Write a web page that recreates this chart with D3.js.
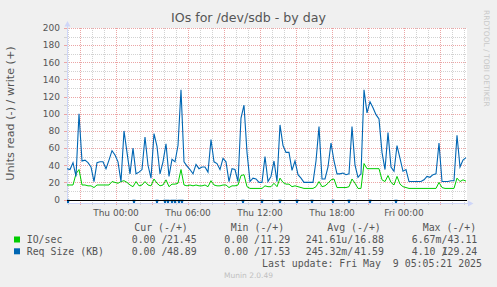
<!DOCTYPE html>
<html>
<head>
<meta charset="utf-8">
<script src="https://cdn.jsdelivr.net/npm/d3@7/dist/d3.min.js"></script>
<style>
  html, body { margin: 0; padding: 0; background: #F0F0F0; }
  svg { display: block; }
</style>
</head>
<body>
<div id="chart"></div>
<script>
// samples every 15 minutes, starting Wed 19:55
const startTime = new Date(2025, 4, 7, 19, 55)
const endTime = new Date(2025, 4, 9, 5, 15)
const stepMinutes = 15

// write side (+)
const ioWrite = [
  17, 17, 17, 30, 35, 17, 17, 16, 16, 14,
  17, 17, 17, 17, 17, 21, 20, 19, 21, 22,
  20, 17, 15, 21, 16, 17, 21, 17, 16, 24,
  19, 16, 17, 23, 15, 18, 18, 19, 35, 17,
  16, 17, 16, 17, 16, 16, 17, 15, 22, 17,
  16, 16, 17, 17, 14, 16, 16, 17, 28, 29,
  15, 13, 13, 13, 13, 13, 16, 15, 15, 19,
  15, 25, 20, 18, 18, 15, 16, 15, 14, 13,
  13, 13, 13, 15, 21, 15, 16, 19, 23, 24,
  14, 14, 14, 14, 15, 24, 19, 13, 13, 42,
  36, 36, 36, 36, 36, 23, 21, 28, 20, 17,
  27, 18, 15, 14, 13, 13, 13, 13, 13, 13,
  13, 13, 13, 13, 20, 14, 13, 13, 13, 13,
  25, 21, 23, 21.45
]
const reqSizeWrite = [
  36, 35, 43, 27, 100, 45, 46, 43, 38, 21,
  43, 44, 44, 36, 46, 57, 52, 44, 21, 80,
  55, 30, 60, 30, 32, 35, 73, 40, 25, 77,
  62, 30, 44, 65, 27, 47, 44, 63, 128, 44,
  39, 35, 30, 41, 36, 38, 38, 32, 70, 44,
  42, 35, 48, 44, 21, 36, 35, 21, 95, 110,
  55, 21, 25, 24, 20, 20, 50, 21, 27, 45,
  21, 87, 63, 55, 55, 34, 45, 29, 25, 20,
  20, 20, 20, 45, 85, 24, 24, 38, 66, 45,
  30, 30, 31, 29, 30, 85, 40, 26, 30, 128,
  101, 114, 107, 99, 94, 55, 35, 78, 38, 33,
  63, 48, 33, 35, 21, 21, 21, 21, 21, 23,
  27, 26, 29, 30, 66, 21, 21, 21, 22, 22,
  75, 38, 46, 48.89
]

// read side (-): short single-sample spikes of request size
const readTimes = [
  '2025-05-07 20:00', '2025-05-08 01:30', '2025-05-08 03:25', '2025-05-08 04:05',
  '2025-05-08 04:20', '2025-05-08 04:40', '2025-05-08 04:55', '2025-05-08 05:15',
  '2025-05-08 05:30', '2025-05-08 10:35', '2025-05-08 12:10', '2025-05-08 13:40',
  '2025-05-08 15:05', '2025-05-08 16:20', '2025-05-08 18:05', '2025-05-08 19:25',
  '2025-05-08 21:10', '2025-05-08 23:20'
]
const reqSizeRead = [6, 6, 6, 6, 6, 6, 6, 6, 6, 6, 6, 6, 6, 6, 6, 6, 6, 6]

const yTicks = [0, 20, 40, 60, 80, 100, 120, 140, 160, 180, 200]

const legendNames = ['IO/sec', 'Req Size (KB)']
const legendColors = ['#00CC00', '#0066B3']
const legendHeaders = ['Cur (-/+)', 'Min (-/+)', 'Avg (-/+)', 'Max (-/+)']
const curValues = ['0.00 /21.45', '0.00 /48.89']
const minValues = ['0.00 /11.29', '0.00 /17.53']
const avgValues = ['241.61u/16.88', '245.32m/41.59']
const maxValues = ['6.67m/43.11', '4.10 /129.24']

const W = 497, H = 287
const plotLeft = 67, plotRight = 467, plotTop = 28, plotBottom = 203

const svg = d3.select('#chart').append('svg')
  .attr('width', W)
  .attr('height', H)

svg.append('rect').attr('width', W).attr('height', H).attr('fill', '#F0F0F0')
svg.append('rect')
  .attr('x', plotLeft).attr('y', plotTop)
  .attr('width', plotRight - plotLeft).attr('height', plotBottom - plotTop)
  .attr('fill', '#FFFFFF')

const x = d3.scaleTime().domain([startTime, endTime]).range([plotLeft, plotRight])
const y = d3.scaleLinear().domain([-4, 200]).range([plotBottom, plotTop])

const minorColor = '#D2D2D2'
const majorColor = '#EBA5A5'
const axisColor = '#CFD6F8'
const fontColor = '#555555'

const grid = svg.append('g').attr('shape-rendering', 'crispEdges')

// horizontal grid, every 10 (minor) and every 20 (major)
d3.range(0, 201, 10).forEach(v => {
  const yy = Math.round(y(v)) + 0.5
  const c = v % 20 === 0 ? majorColor : minorColor
  grid.append('line')
    .attr('x1', plotLeft).attr('x2', plotRight).attr('y1', yy).attr('y2', yy)
    .attr('stroke', c).attr('stroke-dasharray', '1,1')
  grid.append('line')
    .attr('x1', plotLeft - 3).attr('x2', plotLeft).attr('y1', yy).attr('y2', yy)
    .attr('stroke', c)
})

// vertical grid, every hour (minor) and every 3 hours (major)
x.ticks(d3.timeHour.every(1)).forEach(t => {
  const xx = Math.round(x(t)) + 0.5
  const c = t.getHours() % 3 === 0 ? majorColor : minorColor
  grid.append('line')
    .attr('x1', xx).attr('x2', xx).attr('y1', plotTop).attr('y2', plotBottom)
    .attr('stroke', c).attr('stroke-dasharray', '1,1')
  grid.append('line')
    .attr('x1', xx).attr('x2', xx).attr('y1', plotBottom).attr('y2', plotBottom + 2)
    .attr('stroke', c)
})

// axes with arrows
svg.append('line')
  .attr('x1', plotLeft + 0.5).attr('x2', plotLeft + 0.5).attr('y1', plotBottom).attr('y2', 24)
  .attr('stroke', axisColor)
svg.append('path')
  .attr('d', `M${plotLeft - 2.5},26.5 L${plotLeft + 3.5},26.5 L${plotLeft + 0.5},21 Z`)
  .attr('fill', axisColor)
svg.append('line')
  .attr('x1', plotLeft).attr('x2', plotRight + 4).attr('y1', plotBottom + 0.5).attr('y2', plotBottom + 0.5)
  .attr('stroke', axisColor)
svg.append('path')
  .attr('d', `M${plotRight + 1},${plotBottom - 2.5} L${plotRight + 1},${plotBottom + 3.5} L${plotRight + 6.5},${plotBottom + 0.5} Z`)
  .attr('fill', axisColor)

// tick labels
svg.append('g').selectAll('text')
  .data(yTicks).enter().append('text')
  .attr('x', 60)
  .attr('y', d => y(d) + 3.3)
  .attr('text-anchor', 'end')
  .attr('font-family', 'DejaVu Sans')
  .attr('font-size', 9)
  .attr('fill', fontColor)
  .text(d => d)

const xFormat = d3.timeFormat('%a %H:%M')
svg.append('g').selectAll('text')
  .data(x.ticks(d3.timeHour.every(1)).filter(t => t.getHours() % 6 === 0))
  .enter().append('text')
  .attr('x', d => x(d))
  .attr('y', 215.5)
  .attr('text-anchor', 'middle')
  .attr('font-family', 'DejaVu Sans')
  .attr('font-size', 9)
  .attr('fill', fontColor)
  .text(d => xFormat(d))

// series
svg.append('clipPath').attr('id', 'plot-clip')
  .append('rect')
  .attr('x', plotLeft).attr('y', 0).attr('width', plotRight - plotLeft + 1).attr('height', plotBottom)

const plot = svg.append('g').attr('clip-path', 'url(#plot-clip)')
const sampleTime = i => d3.timeMinute.offset(startTime, i * stepMinutes)
const line = d3.line()
  .x((d, i) => x(sampleTime(i)))
  .y(d => y(d))

plot.append('path')
  .datum(ioWrite)
  .attr('d', line)
  .attr('fill', 'none')
  .attr('stroke', legendColors[0])
  .attr('stroke-width', 1)

const parseTime = d3.timeParse('%Y-%m-%d %H:%M')
const spike = d3.line().x(d => x(d[0])).y(d => y(d[1]))
plot.selectAll('path.read')
  .data(readTimes.map((t, i) => {
    const tt = parseTime(t)
    return [[d3.timeMinute.offset(tt, -5), 0], [tt, -reqSizeRead[i]], [d3.timeMinute.offset(tt, 5), 0]]
  }))
  .enter().append('path')
  .attr('class', 'read')
  .attr('d', spike)
  .attr('fill', 'none')
  .attr('stroke', legendColors[1])
  .attr('stroke-width', 1.2)

plot.append('path')
  .datum(reqSizeWrite)
  .attr('d', line)
  .attr('fill', 'none')
  .attr('stroke', legendColors[1])
  .attr('stroke-width', 1.1)

// zero rule
svg.append('line')
  .attr('x1', plotLeft).attr('x2', plotRight)
  .attr('y1', Math.round(y(0)) + 0.5).attr('y2', Math.round(y(0)) + 0.5)
  .attr('stroke', '#000000')
  .attr('shape-rendering', 'crispEdges')

// title and labels
svg.append('text')
  .attr('x', 248.5).attr('y', 22)
  .attr('text-anchor', 'middle')
  .attr('font-family', 'DejaVu Sans')
  .attr('font-size', 12.6)
  .attr('fill', fontColor)
  .text('IOs for /dev/sdb - by day')

svg.append('text')
  .attr('transform', 'translate(14,113.5) rotate(-90)')
  .attr('text-anchor', 'middle')
  .attr('font-family', 'DejaVu Sans')
  .attr('font-size', 11.2)
  .attr('fill', fontColor)
  .text('Units read (-) / write (+)')

svg.append('text')
  .attr('transform', 'translate(484,10) rotate(90)')
  .attr('font-family', 'DejaVu Sans')
  .attr('font-size', 7.5)
  .attr('fill', '#C8C8C8')
  .text('RRDTOOL / TOBI OETIKER')

// legend
const mono = 'DejaVu Sans Mono'
const legendFont = 9.9
const headerX = [134.3, 230.7, 327.3, 422.7]
const colStart = [131.7, 224.3, 305.7, 411.7]
const colEnd = [196.7, 290.3, 384, 477.3]
const rowY = [242.7, 254.5]

const legend = svg.append('g')
  .attr('font-family', mono)
  .attr('font-size', legendFont)
  .attr('fill', fontColor)

legend.selectAll('text.head')
  .data(legendHeaders).enter().append('text')
  .attr('class', 'head')
  .attr('x', (d, i) => headerX[i])
  .attr('y', 230.5)
  .text(d => d)

const columns = [curValues, minValues, avgValues, maxValues]
legendNames.forEach((name, r) => {
  legend.append('rect')
    .attr('x', 14).attr('y', rowY[r] - 6.2)
    .attr('width', 6).attr('height', 6)
    .attr('fill', legendColors[r])
  legend.append('text')
    .attr('x', 26.7).attr('y', rowY[r])
    .text(name)
  columns.forEach((col, c) => {
    const cut = col[r].indexOf('/') + 1
    legend.append('text')
      .attr('x', colStart[c]).attr('y', rowY[r])
      .text(col[r].slice(0, cut))
    legend.append('text')
      .attr('x', colEnd[c]).attr('y', rowY[r])
      .attr('text-anchor', 'end')
      .text(col[r].slice(cut))
  })
})

legend.append('text')
  .attr('x', 482).attr('y', 266.6)
  .attr('text-anchor', 'end')
  .style('white-space', 'pre')
  .text('Last update: Fri May  9 05:05:21 2025')

svg.append('text')
  .attr('x', 248.5).attr('y', 278)
  .attr('text-anchor', 'middle')
  .attr('font-family', 'DejaVu Sans')
  .attr('font-size', 7.5)
  .attr('fill', '#C0C0C0')
  .text('Munin 2.0.49')
</script>
</body>
</html>
